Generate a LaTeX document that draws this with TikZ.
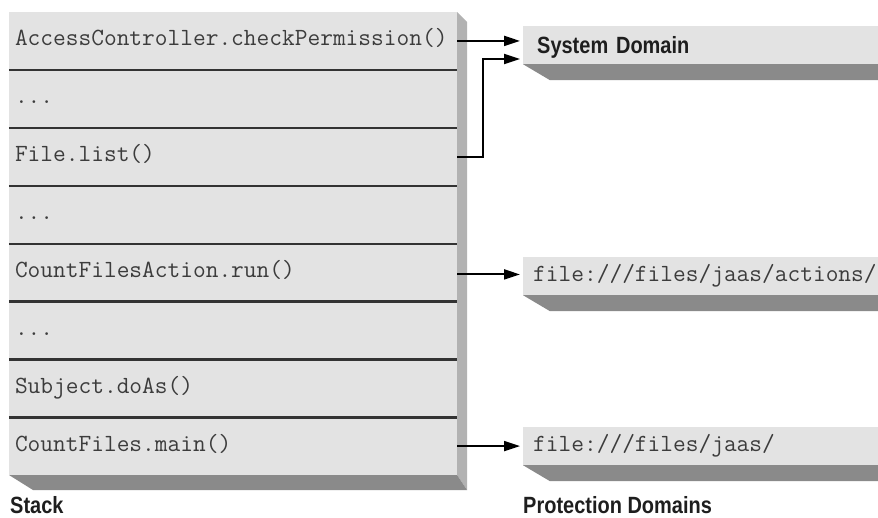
\documentclass[tikz,border=0pt]{standalone}
\usepackage{fontspec}
\usetikzlibrary{arrows.meta,calc}
\newfontfamily\lblfnt[FakeStretch=0.85]{Liberation Sans}
\definecolor{facegray}{HTML}{E3E3E3}
\definecolor{sidegray}{HTML}{B2B2B2}
\definecolor{botgray}{HTML}{8A8A8A}
\definecolor{monotext}{HTML}{3C3C3C}
\definecolor{sepline}{HTML}{333333}
\definecolor{lbltext}{HTML}{1E1E1E}
\begin{document}
\begin{tikzpicture}[x=1pt,y=-1pt,
  stackrow/.style={minimum width=448pt, minimum height=57.875pt, text width=436pt,
    inner xsep=6pt, inner ysep=0pt, align=left,
    font=\ttfamily\fontsize{24.7}{26}\selectfont, text=monotext,
    text height=13pt, text depth=3pt},
  domainbox/.style={fill=facegray, anchor=west, minimum width=355pt, minimum height=38pt,
    inner xsep=#1, text width=355pt-2*#1, inner ysep=0pt, align=left},
  monotxt/.style={font=\ttfamily\fontsize{24.7}{26}\selectfont, text=monotext, text height=13pt, text depth=3pt},
  boldtxt/.style={font=\lblfnt\bfseries\fontsize{23.5}{26}\selectfont, text=lbltext},
  sepl/.style={draw=sepline, line width=2.4pt},
  arr/.style={draw=black, line width=2pt, -{Triangle[length=16pt,width=10pt]}, shorten >=3pt},
  lbl/.style={boldtxt, anchor=base west, inner sep=0pt}]
\useasboundingbox (0,0) rectangle (878,517);

% stack body
\fill[facegray] (9,12) rectangle (457,475);
\fill[sidegray] (457,12) -- (467,22) -- (467,490) -- (457,475) -- cycle;
\fill[botgray] (9,475) -- (33,490) -- (467,490) -- (457,475) -- cycle;

\node[stackrow] (r1) at (233,40.94) {AccessController.checkPermission()};
\node[stackrow] (r2) at (233,98.81) {...};
\node[stackrow] (r3) at (233,156.69) {File.list()};
\node[stackrow] (r4) at (233,214.56) {...};
\node[stackrow] (r5) at (233,272.44) {CountFilesAction.run()};
\node[stackrow] (r6) at (233,330.31) {...};
\node[stackrow] (r7) at (233,388.19) {Subject.doAs()};
\node[stackrow] (r8) at (233,446.06) {CountFiles.main()};

\foreach \r in {r1,r2,r3,r4,r5,r6,r7}{
  \draw[sepl] (\r.south west) -- (\r.south east);
}

% protection domains
\node[domainbox=14pt, boldtxt, text height=17pt, text depth=0pt] (sys) at (523,45) {System Domain};
\node[domainbox=10pt, monotxt] (act) at (523,276) {file:///files/jaas/actions/};
\node[domainbox=10pt, monotxt] (jaas) at (523,446) {file:///files/jaas/};

\foreach \b in {sys,act,jaas}{
  \fill[botgray] (\b.south west) -- ++(27,16) -- ([yshift=-16pt]\b.south east) -- (\b.south east) -- cycle;
}

% arrows
\draw[arr] (r1.east) -- (r1.east -| sys.west);
\draw[arr] (r3.east) -- ++(26,0) |- ([yshift=-14pt]sys.west);
\draw[arr] ([yshift=-2pt]r5.east) -- ([yshift=-2pt]r5.east -| act.west);
\draw[arr] (r8.east) -- (r8.east -| jaas.west);

% captions
\node[lbl] (stack) at (10,513.5) {Stack};
\node[lbl] (pdom) at (523,513) {Protection Domains};
\end{tikzpicture}
\end{document}
